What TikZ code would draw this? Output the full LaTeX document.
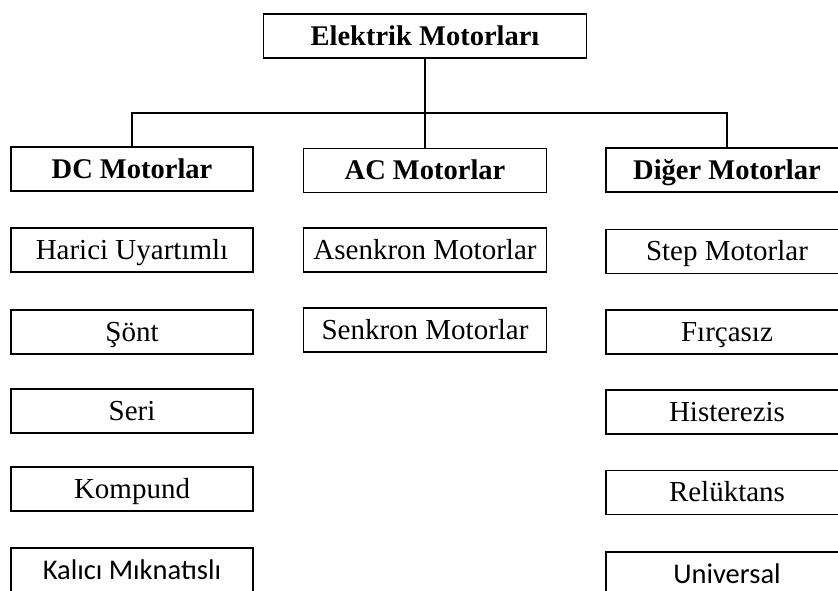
\documentclass[tikz,border=0pt]{standalone}
\usepackage{fontspec}
\setmainfont{Liberation Serif}
\newfontfamily\calibrifont{Carlito}
\begin{document}
\begin{tikzpicture}[x=1pt,y=1pt,
  mbox/.style={draw=black, line width=1.5pt, minimum width=242pt, minimum height=44pt,
    inner sep=0pt, text height=21pt, text depth=3pt, font=\fontsize{29}{31}\selectfont},
  hbox/.style={mbox, font=\fontsize{28.5}{31}\selectfont\bfseries},
  sbox/.style={mbox, font=\fontsize{28.5}{31}\selectfont\calibrifont},
  conn/.style={draw=black, line width=1.5pt}]
\useasboundingbox (0,0) rectangle (838,-590);
\node[hbox, minimum width=323pt] (top) at (425,-36) {Elektrik Motorları};
\node[hbox] (dc) at (132,-169) {DC Motorlar};
\node[hbox, minimum width=243pt] (ac) at (425,-170.5) {AC Motorlar};
\node[hbox] (dg) at (727,-170) {Diğer Motorlar};
% DC column
\node[mbox] (d1) at (132,-250) {Harici Uyartımlı};
\node[mbox] (d2) at (132,-332) {Şönt};
\node[mbox] (d3) at (132,-411) {Seri};
\node[mbox] (d4) at (132,-489) {Kompund};
\node[sbox] (d5) at (132,-570) {Kalıcı Mıknatıslı};
% AC column
\node[mbox, minimum width=243pt] (a1) at (425,-250) {Asenkron Motorlar};
\node[mbox, minimum width=243pt] (a2) at (425,-330) {Senkron Motorlar};
% Other column
\node[mbox] (o1) at (727,-251.5) {Step Motorlar};
\node[mbox] (o2) at (727,-332) {Fırçasız};
\node[mbox] (o3) at (727,-412) {Histerezis};
\node[mbox] (o4) at (727,-492.5) {Relüktans};
\node[sbox] (o5) at (727,-574) {Universal};
% connectors
\coordinate (jn) at (425,-113);
\draw[conn] (top.south) -- (jn);
\draw[conn] (dc.north) |- (jn) -| (dg.north);
\draw[conn] (jn) -- (ac.north);
\end{tikzpicture}
\end{document}
